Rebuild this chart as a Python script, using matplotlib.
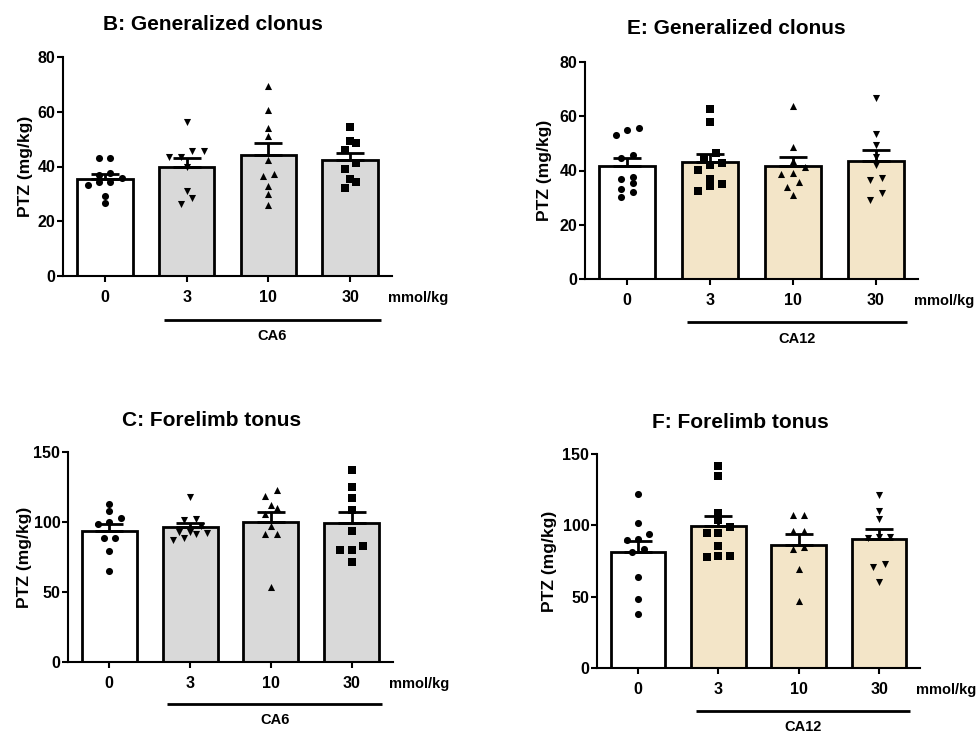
import matplotlib
matplotlib.use("Agg")
import matplotlib.pyplot as plt
import numpy as np

plt.rcParams.update(
    {
        "font.family": ["Liberation Sans", "DejaVu Sans"],
        "font.weight": "bold",
        "axes.linewidth": 1.5,
    }
)

W_PX, H_PX = 976, 733
DOSES = ["0", "3", "10", "30"]

# PTZ threshold (mg/kg) per animal
B_CTRL = [43.1, 43.1, 37.6, 37.0, 35.7, 34.3, 34.3, 33.3, 29.4, 26.5]
B_CA6_3 = [56.1, 45.5, 45.5, 43.3, 43.3, 40.0, 31.2, 28.4, 26.3]
B_CA6_10 = [69.5, 60.7, 54.0, 51.0, 42.4, 37.2, 36.6, 33.0, 30.0, 26.1]
B_CA6_30 = [54.4, 49.4, 48.6, 45.9, 41.2, 39.0, 35.4, 34.3, 32.1]

C_CTRL = [113.2, 107.8, 102.6, 99.7, 98.5, 88.7, 88.7, 79.5, 65.0]
C_CA6_3 = [118.0, 101.9, 101.4, 97.0, 92.6, 92.6, 91.8, 91.4, 88.3, 86.8]
C_CA6_10 = [123.2, 118.4, 112.5, 110.1, 105.6, 97.1, 91.2, 91.2, 53.9]
C_CA6_30 = [137.5, 125.1, 117.3, 108.5, 93.5, 83.1, 80.0, 80.0, 71.7]

E_CTRL = [55.7, 54.9, 53.0, 45.6, 44.6, 37.5, 37.0, 35.5, 33.2, 32.2, 30.4]
E_CA12_3 = [62.6, 57.7, 46.3, 44.2, 42.6, 42.0, 40.3, 36.8, 35.0, 34.3, 32.5]
E_CA12_10 = [63.7, 48.5, 43.5, 41.2, 38.9, 38.7, 35.7, 34.0, 31.0]
E_CA12_30 = [66.9, 53.4, 49.4, 44.9, 42.0, 37.1, 36.5, 31.8, 29.2]

F_CTRL = [122.0, 101.9, 94.0, 90.5, 89.8, 83.5, 81.6, 63.7, 48.5, 37.8]
F_CA12_3 = [141.8, 134.6, 108.9, 103.8, 99.1, 94.5, 94.5, 85.6, 78.8, 78.8, 78.1]
F_CA12_10 = [107.3, 107.3, 96.1, 96.1, 85.1, 83.3, 69.3, 47.3]
F_CA12_30 = [121.3, 110.1, 104.5, 92.1, 91.7, 91.0, 72.8, 71.1, 60.6]

GREY = "#d9d9d9"
BEIGE = "#f3e5c8"

PANELS = [
    dict(title="B: Generalized clonus", groups=[B_CTRL, B_CA6_3, B_CA6_10, B_CA6_30],
         markers=["o", "v", "^", "s"], color=GREY, drug="CA6", ymax=80, ystep=20,
         box=(63, 57, 392, 276), title_xy=(213, 25), ylab_off=30),
    dict(title="E: Generalized clonus", groups=[E_CTRL, E_CA12_3, E_CA12_10, E_CA12_30],
         markers=["o", "s", "^", "v"], color=BEIGE, drug="CA12", ymax=80, ystep=20,
         box=(585, 62, 918, 279), title_xy=(736, 29), ylab_off=33),
    dict(title="C: Forelimb tonus", groups=[C_CTRL, C_CA6_3, C_CA6_10, C_CA6_30],
         markers=["o", "v", "^", "s"], color=GREY, drug="CA6", ymax=150, ystep=50,
         box=(68, 452, 393, 662), title_xy=(212, 420), ylab_off=36),
    dict(title="F: Forelimb tonus", groups=[F_CTRL, F_CA12_3, F_CA12_10, F_CA12_30],
         markers=["o", "s", "^", "v"], color=BEIGE, drug="CA12", ymax=150, ystep=50,
         box=(597, 454, 920, 668), title_xy=(740, 423), ylab_off=40),
]


def spread(values, thr, step=0.14):
    # simple column-scatter layout: points with close values are put side by side
    order = np.argsort(values)
    vals = np.asarray(values)[order]
    offsets = np.zeros(len(vals))
    start = 0
    for i in range(1, len(vals) + 1):
        if i == len(vals) or vals[i] - vals[start] > thr:
            n = i - start
            offsets[start:i] = (np.arange(n) - (n - 1) / 2) * step
            start = i
    out = np.zeros(len(vals))
    out[order] = offsets
    return out


fig = plt.figure(figsize=(W_PX / 100, H_PX / 100), dpi=100)

for p in PANELS:
    x0, y0, x1, y1 = p["box"]
    ax = fig.add_axes([x0 / W_PX, 1 - y1 / H_PX, (x1 - x0) / W_PX, (y1 - y0) / H_PX])
    xs = np.arange(len(DOSES))
    means = [np.mean(g) for g in p["groups"]]
    sems = [np.std(g, ddof=1) / np.sqrt(len(g)) for g in p["groups"]]
    colors = ["white"] + [p["color"]] * 3
    ax.bar(xs, means, width=0.68, color=colors, edgecolor="black", linewidth=2.0, zorder=2)
    for i, g in enumerate(p["groups"]):
        off = spread(g, p["ymax"] * 0.034)
        ax.scatter(xs[i] + off, g, marker=p["markers"][i], s=26, color="black",
                   linewidths=0, zorder=4)
        ax.errorbar(xs[i], means[i], yerr=[[0], [sems[i]]], color="black",
                    elinewidth=2.0, capsize=10, capthick=2.0, zorder=5)

    ax.set_xlim(-0.51, 3.51)
    ax.set_ylim(0, p["ymax"])
    ax.set_yticks(np.arange(0, p["ymax"] + 1, p["ystep"]))
    ax.set_xticks(xs)
    ax.set_xticklabels(DOSES)
    ax.spines["top"].set_visible(False)
    ax.spines["right"].set_visible(False)
    ax.tick_params(width=1.5, length=4, labelsize=11.5)
    ax.tick_params(axis="y", pad=1.5)
    ax.tick_params(axis="x", pad=6)
    for lab in ax.get_xticklabels() + ax.get_yticklabels():
        lab.set_fontweight("bold")
    ax.set_ylabel("PTZ (mg/kg)", fontsize=12.5, fontweight="bold")
    ax.yaxis.set_label_coords(-p["ylab_off"] / (x1 - x0), 0.5)

    ax.annotate("mmol/kg", xy=(1, 0), xycoords="axes fraction", xytext=(-4, -22),
                textcoords="offset pixels", ha="left", va="center",
                fontsize=10.5, fontweight="bold")

    tr = ax.get_xaxis_transform()
    ax.plot([0.72, 3.38], [-0.2, -0.2], transform=tr, color="black", lw=2.0,
            clip_on=False, solid_capstyle="butt")
    ax.text(2.05, -0.275, p["drug"], transform=tr, ha="center", va="center",
            fontsize=10.5, fontweight="bold")

    tx, ty = p["title_xy"]
    fig.text(tx / W_PX, 1 - ty / H_PX, p["title"], ha="center", va="center",
             fontsize=15, fontweight="bold")

fig.savefig("out.png", dpi=100, facecolor="white")
